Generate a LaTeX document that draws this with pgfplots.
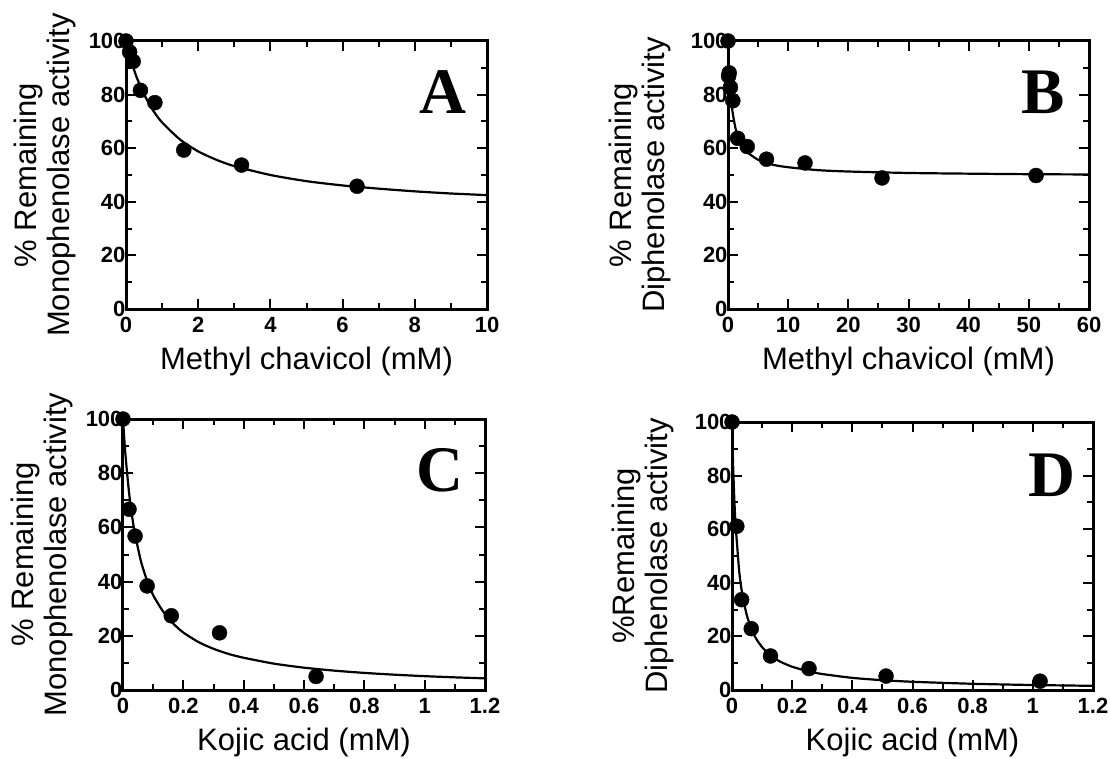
\documentclass[border=0pt]{standalone}
\usepackage{fontspec}
\setmainfont{Liberation Sans}
\newfontfamily\timesfont{Liberation Serif}
\usepackage{pgfplots}
\pgfplotsset{compat=1.18}

\pgfplotsset{
  panel/.style={
    scale only axis,
    ymin=0, ymax=100, ytick={0,20,40,60,80,100}, minor y tick num=1,
    xmin=0,
    tick align=inside,
    major tick length=10pt, minor tick length=6pt,
    axis line style={line width=3pt},
    tick style={line width=2pt, black},
    ticklabel style={font=\fontsize{22}{22}\selectfont\bfseries},
    /pgf/number format/assume math mode=true,
    xticklabel style={yshift=-5pt},
    yticklabel style={xshift=3pt},
    label style={font=\fontsize{31}{33}\selectfont},
    xlabel style={at={(axis description cs:0.5,-0.224)}, anchor=base},
    ylabel style={at={(axis description cs:-0.224,0.5)}, anchor=center, align=center},
    clip=false,
  },
  fit/.style={black, line width=2.2pt, no markers, smooth, tension=0.4},
  pts/.style={black, only marks, mark=*, mark size=7.5pt},
}
\tikzset{letter/.style={font=\fontsize{65}{65}\selectfont\timesfont\bfseries}}

\begin{document}
\begin{tikzpicture}
\useasboundingbox (0,0) rectangle (1110pt,-759pt);

% A
\begin{axis}[panel, at={(126pt,-41pt)}, anchor=north west, width=361pt, height=268pt,
  xmax=10, xtick={0,2,4,6,8,10}, minor x tick num=1,
  xlabel={Methyl chavicol (mM)},
  ylabel={\% Remaining\\Monophenolase activity}]
\addplot[fit] coordinates {
  (0,100) (0.1,94.7) (0.2,90.2) (0.3,86.3) (0.5,80.1) (0.75,74.1) (1,69.6)
  (1.5,63.2) (2,58.8) (2.5,55.7) (3,53.3) (4,50.0) (5,47.7) (6,46.1)
  (7,44.9) (8,43.9) (9,43.1) (10,42.5)
};
\addplot[pts] coordinates {
  (0,100) (0.1,95.9) (0.2,92.4) (0.4,81.6) (0.8,77.0) (1.6,59.3) (3.2,53.7) (6.4,45.8)
};
\node[letter] at (axis description cs:0.878,0.81) {A};
\end{axis}

% B
\begin{axis}[panel, at={(728pt,-41pt)}, anchor=north west, width=361pt, height=268pt,
  xmax=60, xtick={0,10,20,30,40,50,60}, minor x tick num=1,
  xlabel={Methyl chavicol (mM)},
  ylabel style={at={(axis description cs:-0.243,0.5)}},
  ylabel={\% Remaining\\Diphenolase activity}]
\addplot[fit] coordinates {
  (0,100) (0.1,93.6) (0.2,88.6) (0.4,81.4) (0.6,76.5) (0.8,72.9) (1.2,67.9)
  (1.6,64.7) (2.4,60.8) (3.2,58.5) (5,55.7) (7.5,53.8) (10,52.9) (15,51.8)
  (20,51.3) (30,50.75) (40,50.5) (50,50.3) (60,50.2)
};
\addplot[pts] coordinates {
  (0,100) (0.1,86.9) (0.2,88.1) (0.4,82.7) (0.8,77.7) (1.6,63.7) (3.2,60.6)
  (6.4,55.9) (12.8,54.5) (25.6,48.9) (51.2,49.8)
};
\node[letter] at (axis description cs:0.873,0.81) {B};
\end{axis}

% C
\begin{axis}[panel, at={(123pt,-419pt)}, anchor=north west, width=362pt, height=271pt,
  xmax=1.2, xtick={0,0.2,0.4,0.6,0.8,1,1.2}, minor x tick num=1,
  xlabel={Kojic acid (mM)},
  ylabel={\% Remaining\\Monophenolase activity}]
\addplot[fit] coordinates {
  (0,100) (0.005,91.5) (0.01,84.4) (0.02,72.9) (0.03,64.2) (0.04,57.4)
  (0.06,47.3) (0.08,40.3) (0.1,35.0) (0.125,30.3) (0.15,26.4) (0.175,23.6)
  (0.2,21.2) (0.25,17.7) (0.3,15.2) (0.35,13.3) (0.4,11.9) (0.5,9.73)
  (0.6,8.24) (0.7,7.15) (0.8,6.31) (0.9,5.65) (1.0,5.11) (1.1,4.67) (1.2,4.30)
};
\addplot[pts] coordinates {
  (0,100) (0.02,66.7) (0.04,56.8) (0.08,38.4) (0.16,27.4) (0.32,21.1) (0.64,5.0)
};
\node[letter] at (axis description cs:0.876,0.81) {C};
\end{axis}

% D
\begin{axis}[panel, at={(732pt,-422pt)}, anchor=north west, width=361pt, height=268pt,
  xmax=1.2, xtick={0,0.2,0.4,0.6,0.8,1,1.2}, minor x tick num=1,
  xlabel={Kojic acid (mM)},
  ylabel style={at={(axis description cs:-0.246,0.5)}},
  ylabel={\%Remaining\\Diphenolase activity}]
\addplot[fit] coordinates {
  (0,100) (0.002,90.5) (0.004,82.6) (0.008,70.4) (0.012,61.3) (0.016,55.5)
  (0.024,44.2) (0.032,37.3) (0.048,28.4) (0.064,22.9) (0.08,19.2) (0.1,16.0)
  (0.128,12.9) (0.16,10.6) (0.2,8.68) (0.256,6.91) (0.3,5.96) (0.4,4.53)
  (0.5,3.66) (0.6,3.07) (0.8,2.32) (1.0,1.86) (1.2,1.56)
};
\addplot[pts] coordinates {
  (0,100) (0.016,61.1) (0.032,33.7) (0.064,22.9) (0.128,12.7) (0.256,8.0)
  (0.512,5.2) (1.024,3.3)
};
\node[letter] at (axis description cs:0.885,0.80) {D};
\end{axis}
\end{tikzpicture}
\end{document}
